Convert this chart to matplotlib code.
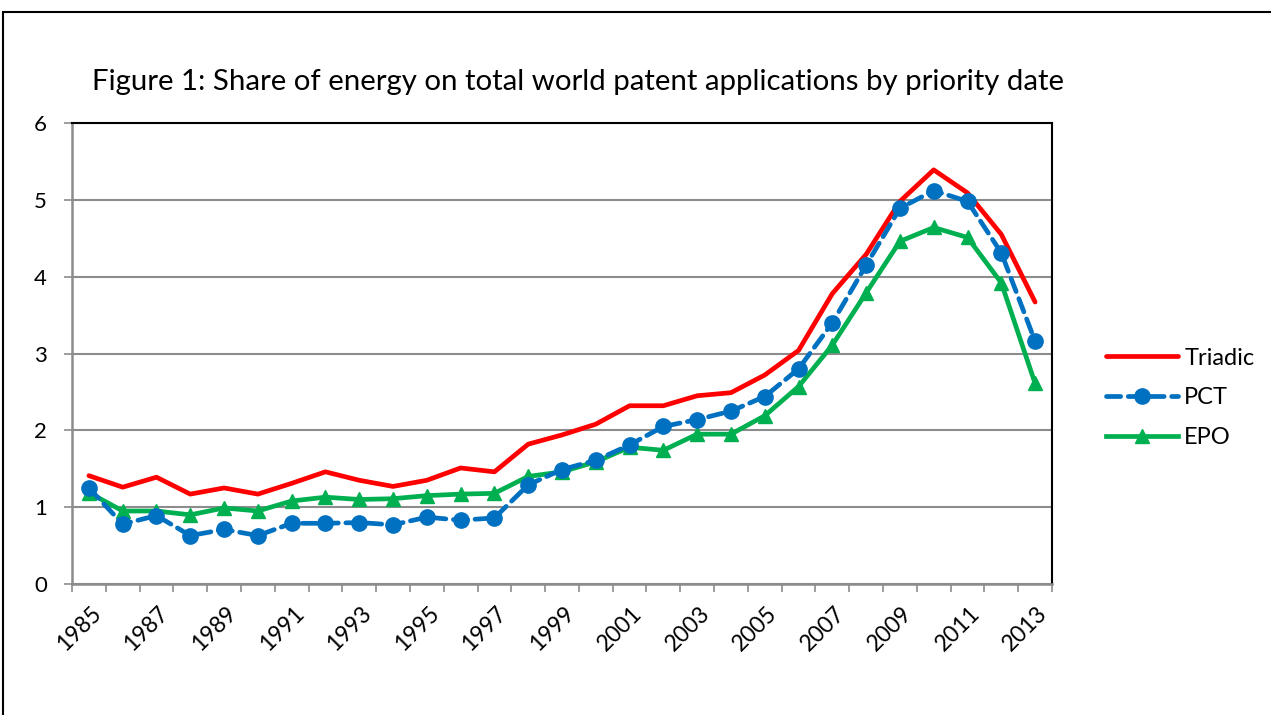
import numpy as np
import matplotlib.pyplot as plt
from matplotlib.patches import Rectangle
from matplotlib import transforms

plt.rcParams['font.family'] = ['Lato', 'DejaVu Sans']

# data (share of energy, %)
years = list(range(1985, 2014))
triadic = [1.41, 1.26, 1.39, 1.17, 1.25, 1.17, 1.31, 1.46, 1.35, 1.27,
           1.35, 1.51, 1.46, 1.82, 1.94, 2.08, 2.32, 2.32, 2.45, 2.49,
           2.72, 3.04, 3.78, 4.29, 4.98, 5.39, 5.09, 4.55, 3.67]
pct = [1.25, 0.78, 0.89, 0.63, 0.71, 0.63, 0.79, 0.79, 0.80, 0.77,
       0.87, 0.83, 0.86, 1.29, 1.49, 1.61, 1.81, 2.05, 2.14, 2.25,
       2.44, 2.80, 3.40, 4.15, 4.89, 5.12, 4.98, 4.31, 3.16]
epo = [1.19, 0.95, 0.95, 0.90, 0.99, 0.95, 1.08, 1.13, 1.10, 1.11,
       1.15, 1.17, 1.18, 1.40, 1.46, 1.59, 1.78, 1.74, 1.95, 1.95,
       2.19, 2.57, 3.11, 3.79, 4.46, 4.64, 4.51, 3.92, 2.61]

W, H = 1271, 715
fig = plt.figure(figsize=(W / 100, H / 100), dpi=100)
ax = fig.add_axes([72 / W, 1 - 584 / H, (1052 - 72) / W, (584 - 123) / H])

x = np.arange(len(years))
ax.plot(x, triadic, color="#FF0000", linewidth=3.4, label="Triadic",
        solid_capstyle="round", zorder=3)
ax.plot(x, pct, color="#0070C0", linewidth=3.4, linestyle=(0, (3, 1.6)),
        marker="o", markersize=11, label="PCT", dash_capstyle="round",
        zorder=4)
ax.plot(x, epo, color="#00B050", linewidth=3.4, marker="^", markersize=10.5,
        label="EPO", zorder=3)

ax.set_xlim(-0.5, len(years) - 0.5)
ax.set_ylim(0, 6)
ax.set_yticks(range(0, 7))
ax.yaxis.grid(True, color="#8C8C8C", linewidth=1.5)
ax.set_axisbelow(True)

# tick marks at category boundaries, labels at every other category
ax.set_xticks(np.arange(-0.5, len(years)), labels=[])
ax.set_xticks(x[::2], labels=[str(y) for y in years[::2]], minor=True)
ax.tick_params(axis="x", which="major", length=6, width=1.2, color="#8C8C8C",
               direction="out")
ax.tick_params(axis="x", which="minor", length=0, pad=19, labelsize=16.5)
ax.tick_params(axis="y", length=6, width=1.2, color="#8C8C8C", labelsize=16,
               pad=12)
shift = transforms.ScaledTranslation(9 / 100, 0, fig.dpi_scale_trans)
for lbl in ax.get_xticklabels(minor=True):
    lbl.set_rotation(45)
    lbl.set_ha("right")
    lbl.set_va("center")
    lbl.set_rotation_mode("anchor")
    lbl.set_transform(lbl.get_transform() + shift)

for side in ("left", "bottom"):
    ax.spines[side].set_color("#8C8C8C")
    ax.spines[side].set_linewidth(1.8)
for side in ("top", "right"):
    ax.spines[side].set_color("black")
    ax.spines[side].set_linewidth(1.5)

fig.text(578 / W, 1 - 82 / H,
         "Figure 1: Share of energy on total world patent applications by priority date",
         ha="center", va="center", fontsize=21.2)

ax.legend(loc="center left", bbox_to_anchor=(1085 / W, 1 - 398 / H),
          bbox_transform=fig.transFigure, frameon=False, fontsize=17,
          handlelength=3.05, labelspacing=0.8, handletextpad=0.25)

# outer chart frame
fig.patches.append(Rectangle((3 / W, -0.05), 1.1, 1 - 12 / H + 0.05,
                             transform=fig.transFigure, fill=False,
                             edgecolor="black", linewidth=1.5))

fig.savefig("out.png", dpi=100)
